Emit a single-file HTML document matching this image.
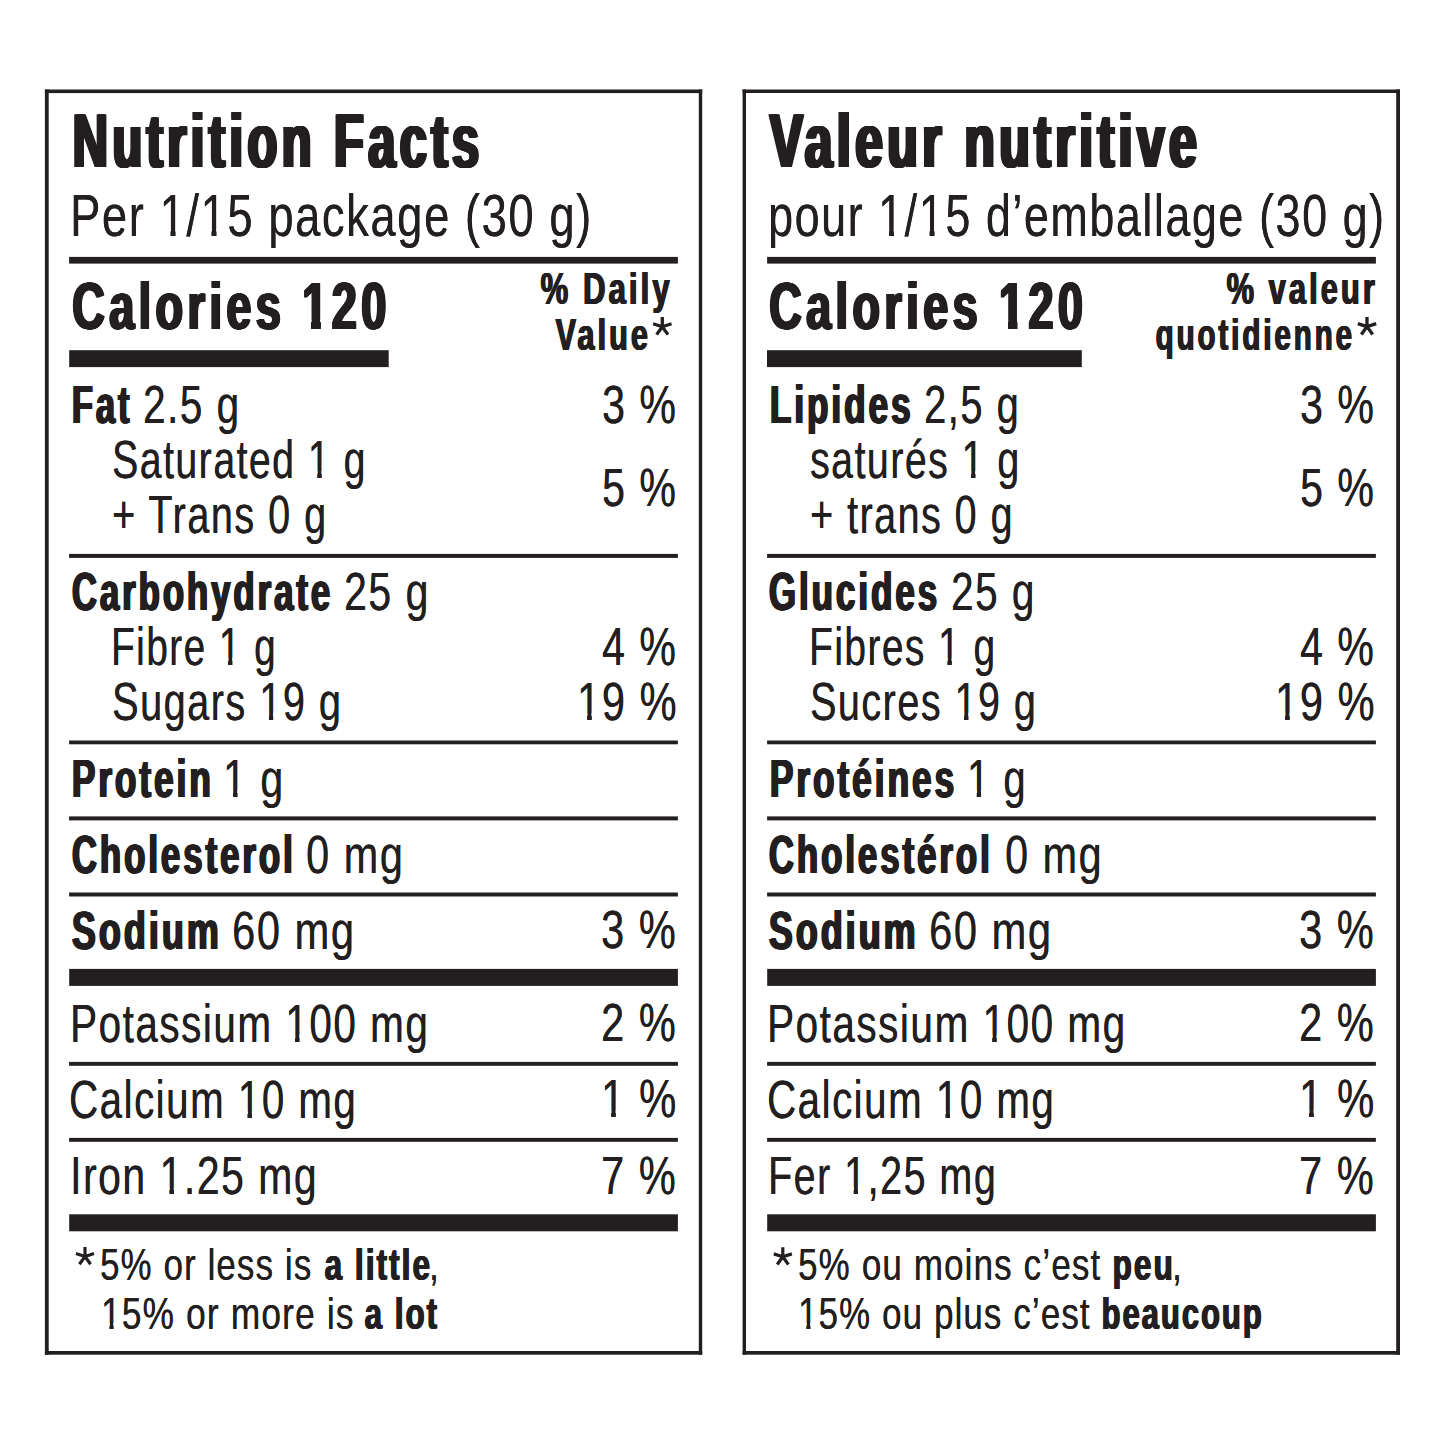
<!DOCTYPE html>
<html><head><meta charset="utf-8"><title>Nutrition Facts</title><style>
html,body{margin:0;padding:0;background:#fff;width:1445px;height:1445px;overflow:hidden;position:relative}
.t{position:absolute;white-space:pre;font-family:"Liberation Sans",sans-serif;color:#231f20;transform-origin:0 0}
.b{font-weight:bold}.r{font-weight:normal}
.k{position:absolute;background:#231f20}
.box{position:absolute;box-sizing:border-box;border:3px solid #231f20}
.ast{position:absolute;left:0;top:0}
.one-per-r{display:inline-block;clip-path:polygon(-20px -20px,200px -20px,200px 42.55px,20.65px 42.55px,20.65px 300px,14.54px 300px,14.54px 42.55px,-20px 42.55px)}
.one-cal-b{display:inline-block;clip-path:polygon(-20px -20px,200px -20px,200px 46.52px,28.55px 46.52px,28.55px 300px,15.22px 300px,15.22px 46.52px,-20px 46.52px)}
.one-body-r{display:inline-block;clip-path:polygon(-20px -20px,200px -20px,200px 37.92px,18.61px 37.92px,18.61px 300px,13.03px 300px,13.03px 37.92px,-20px 37.92px)}
.one-fn-r{display:inline-block;clip-path:polygon(-20px -20px,200px -20px,200px 31.28px,15.69px 31.28px,15.69px 300px,10.87px 300px,10.87px 31.28px,-20px 31.28px)}
</style></head><body>
<svg class="ast" width="1445" height="1445" viewBox="0 0 1445 1445"><g fill="#231f20"><rect x="69.10" y="256.90" width="608.80" height="6.70"/><rect x="767.10" y="256.90" width="608.80" height="6.70"/><rect x="69.20" y="350.20" width="319.50" height="16.90"/><rect x="767.00" y="350.20" width="314.80" height="16.90"/><rect x="69.10" y="553.90" width="608.80" height="4.00"/><rect x="767.10" y="553.90" width="608.80" height="4.00"/><rect x="69.10" y="740.50" width="608.80" height="3.80"/><rect x="767.10" y="740.50" width="608.80" height="3.80"/><rect x="69.10" y="816.40" width="608.80" height="4.00"/><rect x="767.10" y="816.40" width="608.80" height="4.00"/><rect x="69.10" y="892.50" width="608.80" height="4.00"/><rect x="767.10" y="892.50" width="608.80" height="4.00"/><rect x="69.20" y="968.90" width="608.70" height="17.00"/><rect x="767.20" y="968.90" width="608.70" height="17.00"/><rect x="69.10" y="1061.90" width="608.80" height="3.90"/><rect x="767.10" y="1061.90" width="608.80" height="3.90"/><rect x="69.10" y="1137.90" width="608.80" height="3.90"/><rect x="767.10" y="1137.90" width="608.80" height="3.90"/><rect x="69.20" y="1214.30" width="608.70" height="17.00"/><rect x="767.20" y="1214.30" width="608.70" height="17.00"/><rect x="44.90" y="89.50" width="657.30" height="3.60"/><rect x="44.90" y="1351.00" width="657.30" height="3.70"/><rect x="44.90" y="89.50" width="3.80" height="1265.20"/><rect x="698.80" y="89.50" width="3.40" height="1265.20"/><rect x="742.60" y="89.50" width="657.40" height="3.50"/><rect x="742.60" y="1351.00" width="657.40" height="3.70"/><rect x="742.60" y="89.50" width="3.40" height="1265.20"/><rect x="1396.20" y="89.50" width="3.80" height="1265.20"/></g><g stroke="#231f20" fill="none" stroke-linecap="butt"><path d="M662.30 326.80L662.30 317.10M662.30 326.80L653.07 323.80M662.30 326.80L656.60 334.65M662.30 326.80L668.00 334.65M662.30 326.80L671.53 323.80" stroke-width="3.30"/><path d="M1367.00 326.60L1367.00 316.90M1367.00 326.60L1357.77 323.60M1367.00 326.60L1361.30 334.45M1367.00 326.60L1372.70 334.45M1367.00 326.60L1376.23 323.60" stroke-width="3.30"/><path d="M85.00 1256.50L85.00 1247.00M85.00 1256.50L75.96 1253.56M85.00 1256.50L79.42 1264.19M85.00 1256.50L90.58 1264.19M85.00 1256.50L94.04 1253.56" stroke-width="3.20"/><path d="M782.80 1256.80L782.80 1247.30M782.80 1256.80L773.76 1253.86M782.80 1256.80L777.22 1264.49M782.80 1256.80L788.38 1264.49M782.80 1256.80L791.84 1253.86" stroke-width="3.20"/></g></svg>
<div class="t" style="left:70.79px;top:103px;font-size:75.8px;line-height:75.8px;transform:scaleX(0.6421);text-shadow:0.80px 0 0 #231f20,1.60px 0 0 #231f20,2.40px 0 0 #231f20,3.20px 0 0 #231f20,4.00px 0 0 #231f20,4.80px 0 0 #231f20,5.60px 0 0 #231f20;letter-spacing:7.00px;"><span class="b">Nutrition Facts</span></div>
<div class="t" style="left:70.15px;top:187px;font-size:59.0px;line-height:59.0px;transform:scaleX(0.7698);text-shadow:0.30px 0 0 #231f20;letter-spacing:2.00px;"><span class="r">Per <span class="one-per-r">1</span>/<span class="one-per-r">1</span>5 package (30 g)</span></div>
<div class="t" style="left:70.57px;top:273px;font-size:66.5px;line-height:66.5px;transform:scaleX(0.6777);text-shadow:0.60px 0 0 #231f20,1.20px 0 0 #231f20,1.80px 0 0 #231f20,2.40px 0 0 #231f20,3.00px 0 0 #231f20,3.60px 0 0 #231f20;letter-spacing:6.50px;"><span class="b">Calories <span class="one-cal-b">1</span>20</span></div>
<div class="t" style="left:539.81px;top:266px;font-size:45.0px;line-height:45.0px;transform:scaleX(0.6894);text-shadow:0.60px 0 0 #231f20,1.20px 0 0 #231f20,1.80px 0 0 #231f20;letter-spacing:4.50px;"><span class="b">% Daily</span></div>
<div class="t" style="left:554.70px;top:312px;font-size:45.0px;line-height:45.0px;transform:scaleX(0.6809);text-shadow:0.60px 0 0 #231f20,1.20px 0 0 #231f20,1.80px 0 0 #231f20;letter-spacing:4.50px;"><span class="b">Value</span></div>
<div class="t" style="left:71.05px;top:378px;font-size:53.0px;line-height:53.0px;transform:scaleX(0.6511);text-shadow:0.65px 0 0 #231f20,1.30px 0 0 #231f20,1.95px 0 0 #231f20,2.60px 0 0 #231f20;letter-spacing:4.50px;"><span class="b">Fat</span></div>
<div class="t" style="left:143.18px;top:378px;font-size:53.0px;line-height:53.0px;transform:scaleX(0.7620);text-shadow:0.30px 0 0 #231f20;letter-spacing:2.00px;"><span class="r">2.5 g</span></div>
<div class="t" style="left:601.75px;top:378px;font-size:53.0px;line-height:53.0px;transform:scaleX(0.7750);text-shadow:0.30px 0 0 #231f20;letter-spacing:2.00px;"><span class="r">3 %</span></div>
<div class="t" style="left:111.52px;top:433px;font-size:53.0px;line-height:53.0px;transform:scaleX(0.7401);text-shadow:0.30px 0 0 #231f20;letter-spacing:2.00px;"><span class="r">Saturated <span class="one-body-r">1</span> g</span></div>
<div class="t" style="left:111.51px;top:488px;font-size:53.0px;line-height:53.0px;transform:scaleX(0.7465);text-shadow:0.30px 0 0 #231f20;letter-spacing:2.00px;"><span class="r">+ Trans 0 g</span></div>
<div class="t" style="left:601.75px;top:461px;font-size:53.0px;line-height:53.0px;transform:scaleX(0.7750);text-shadow:0.30px 0 0 #231f20;letter-spacing:2.00px;"><span class="r">5 %</span></div>
<div class="t" style="left:70.69px;top:565px;font-size:53.0px;line-height:53.0px;transform:scaleX(0.6555);text-shadow:0.65px 0 0 #231f20,1.30px 0 0 #231f20,1.95px 0 0 #231f20,2.60px 0 0 #231f20;letter-spacing:4.50px;"><span class="b">Carbohydrate</span></div>
<div class="t" style="left:343.76px;top:565px;font-size:53.0px;line-height:53.0px;transform:scaleX(0.7712);text-shadow:0.30px 0 0 #231f20;letter-spacing:2.00px;"><span class="r">25 g</span></div>
<div class="t" style="left:111.38px;top:620px;font-size:53.0px;line-height:53.0px;transform:scaleX(0.7303);text-shadow:0.30px 0 0 #231f20;letter-spacing:2.00px;"><span class="r">Fibre <span class="one-body-r">1</span> g</span></div>
<div class="t" style="left:602.03px;top:620px;font-size:53.0px;line-height:53.0px;transform:scaleX(0.7742);text-shadow:0.30px 0 0 #231f20;letter-spacing:2.00px;"><span class="r">4 %</span></div>
<div class="t" style="left:111.50px;top:675px;font-size:53.0px;line-height:53.0px;transform:scaleX(0.7485);text-shadow:0.30px 0 0 #231f20;letter-spacing:2.00px;"><span class="r">Sugars <span class="one-body-r">1</span>9 g</span></div>
<div class="t" style="left:576.78px;top:675px;font-size:53.0px;line-height:53.0px;transform:scaleX(0.7842);text-shadow:0.30px 0 0 #231f20;letter-spacing:2.00px;"><span class="r"><span class="one-body-r">1</span>9 %</span></div>
<div class="t" style="left:70.51px;top:752px;font-size:53.0px;line-height:53.0px;transform:scaleX(0.6626);text-shadow:0.65px 0 0 #231f20,1.30px 0 0 #231f20,1.95px 0 0 #231f20,2.60px 0 0 #231f20;letter-spacing:4.50px;"><span class="b">Protein</span></div>
<div class="t" style="left:222.54px;top:752px;font-size:53.0px;line-height:53.0px;transform:scaleX(0.7729);text-shadow:0.30px 0 0 #231f20;letter-spacing:2.00px;"><span class="r"><span class="one-body-r">1</span> g</span></div>
<div class="t" style="left:70.69px;top:828px;font-size:53.0px;line-height:53.0px;transform:scaleX(0.6563);text-shadow:0.65px 0 0 #231f20,1.30px 0 0 #231f20,1.95px 0 0 #231f20,2.60px 0 0 #231f20;letter-spacing:4.50px;"><span class="b">Cholesterol</span></div>
<div class="t" style="left:306.34px;top:828px;font-size:53.0px;line-height:53.0px;transform:scaleX(0.7807);text-shadow:0.30px 0 0 #231f20;letter-spacing:2.00px;"><span class="r">0 mg</span></div>
<div class="t" style="left:70.64px;top:904px;font-size:53.0px;line-height:53.0px;transform:scaleX(0.6776);text-shadow:0.65px 0 0 #231f20,1.30px 0 0 #231f20,1.95px 0 0 #231f20,2.60px 0 0 #231f20;letter-spacing:4.50px;"><span class="b">Sodium</span></div>
<div class="t" style="left:231.53px;top:904px;font-size:53.0px;line-height:53.0px;transform:scaleX(0.7840);text-shadow:0.30px 0 0 #231f20;letter-spacing:2.00px;"><span class="r">60 mg</span></div>
<div class="t" style="left:601.23px;top:903px;font-size:53.0px;line-height:53.0px;transform:scaleX(0.7826);text-shadow:0.30px 0 0 #231f20;letter-spacing:2.00px;"><span class="r">3 %</span></div>
<div class="t" style="left:69.95px;top:997px;font-size:53.0px;line-height:53.0px;transform:scaleX(0.7628);text-shadow:0.30px 0 0 #231f20;letter-spacing:2.00px;"><span class="r">Potassium <span class="one-body-r">1</span>00 mg</span></div>
<div class="t" style="left:601.23px;top:996px;font-size:53.0px;line-height:53.0px;transform:scaleX(0.7826);text-shadow:0.30px 0 0 #231f20;letter-spacing:2.00px;"><span class="r">2 %</span></div>
<div class="t" style="left:68.92px;top:1073px;font-size:53.0px;line-height:53.0px;transform:scaleX(0.7596);text-shadow:0.30px 0 0 #231f20;letter-spacing:2.00px;"><span class="r">Calcium <span class="one-body-r">1</span>0 mg</span></div>
<div class="t" style="left:600.76px;top:1072px;font-size:53.0px;line-height:53.0px;transform:scaleX(0.7876);text-shadow:0.30px 0 0 #231f20;letter-spacing:2.00px;"><span class="r"><span class="one-body-r">1</span> %</span></div>
<div class="t" style="left:69.84px;top:1149px;font-size:53.0px;line-height:53.0px;transform:scaleX(0.7712);text-shadow:0.30px 0 0 #231f20;letter-spacing:2.00px;"><span class="r">Iron <span class="one-body-r">1</span>.25 mg</span></div>
<div class="t" style="left:601.25px;top:1149px;font-size:53.0px;line-height:53.0px;transform:scaleX(0.7824);text-shadow:0.30px 0 0 #231f20;letter-spacing:2.00px;"><span class="r">7 %</span></div>
<div class="t" style="left:99.93px;top:1243px;font-size:44.4px;line-height:44.4px;transform:scaleX(0.7828);text-shadow:0.30px 0 0 #231f20;letter-spacing:1.50px;"><span class="r">5% or less is</span></div>
<div class="t" style="left:323.69px;top:1243px;font-size:44.4px;line-height:44.4px;transform:scaleX(0.7054);text-shadow:0.60px 0 0 #231f20,1.20px 0 0 #231f20,1.80px 0 0 #231f20;letter-spacing:3.00px;"><span class="b">a little</span></div>
<div class="t" style="left:429.17px;top:1243px;font-size:44.4px;line-height:44.4px;transform:scaleX(0.7828);text-shadow:0.30px 0 0 #231f20;letter-spacing:1.50px;"><span class="r">,</span></div>
<div class="t" style="left:101.13px;top:1292px;font-size:44.4px;line-height:44.4px;transform:scaleX(0.7933);text-shadow:0.30px 0 0 #231f20;letter-spacing:1.50px;"><span class="r"><span class="one-fn-r">1</span>5% or more is</span></div>
<div class="t" style="left:364.30px;top:1292px;font-size:44.4px;line-height:44.4px;transform:scaleX(0.7010);text-shadow:0.60px 0 0 #231f20,1.20px 0 0 #231f20,1.80px 0 0 #231f20;letter-spacing:3.00px;"><span class="b">a lot</span></div>
<div class="t" style="left:768.35px;top:103px;font-size:75.8px;line-height:75.8px;transform:scaleX(0.6542);text-shadow:0.80px 0 0 #231f20,1.60px 0 0 #231f20,2.40px 0 0 #231f20,3.20px 0 0 #231f20,4.00px 0 0 #231f20,4.80px 0 0 #231f20,5.60px 0 0 #231f20;letter-spacing:7.00px;"><span class="b">Valeur nutritive</span></div>
<div class="t" style="left:767.95px;top:187px;font-size:59.0px;line-height:59.0px;transform:scaleX(0.7619);text-shadow:0.30px 0 0 #231f20;letter-spacing:2.00px;"><span class="r">pour <span class="one-per-r">1</span>/<span class="one-per-r">1</span>5 d’emballage (30 g)</span></div>
<div class="t" style="left:768.37px;top:273px;font-size:66.5px;line-height:66.5px;transform:scaleX(0.6770);text-shadow:0.60px 0 0 #231f20,1.20px 0 0 #231f20,1.80px 0 0 #231f20,2.40px 0 0 #231f20,3.00px 0 0 #231f20,3.60px 0 0 #231f20;letter-spacing:6.50px;"><span class="b">Calories <span class="one-cal-b">1</span>20</span></div>
<div class="t" style="left:1225.92px;top:266px;font-size:45.0px;line-height:45.0px;transform:scaleX(0.6843);text-shadow:0.60px 0 0 #231f20,1.20px 0 0 #231f20,1.80px 0 0 #231f20;letter-spacing:4.50px;"><span class="b">% valeur</span></div>
<div class="t" style="left:1155.19px;top:312px;font-size:45.0px;line-height:45.0px;transform:scaleX(0.6550);text-shadow:0.60px 0 0 #231f20,1.20px 0 0 #231f20,1.80px 0 0 #231f20;letter-spacing:4.50px;"><span class="b">quotidienne</span></div>
<div class="t" style="left:768.51px;top:378px;font-size:53.0px;line-height:53.0px;transform:scaleX(0.6619);text-shadow:0.65px 0 0 #231f20,1.30px 0 0 #231f20,1.95px 0 0 #231f20,2.60px 0 0 #231f20;letter-spacing:4.50px;"><span class="b">Lipides</span></div>
<div class="t" style="left:924.20px;top:378px;font-size:53.0px;line-height:53.0px;transform:scaleX(0.7512);text-shadow:0.30px 0 0 #231f20;letter-spacing:2.00px;"><span class="r">2,5 g</span></div>
<div class="t" style="left:809.86px;top:433px;font-size:53.0px;line-height:53.0px;transform:scaleX(0.7410);text-shadow:0.30px 0 0 #231f20;letter-spacing:2.00px;"><span class="r">saturés <span class="one-body-r">1</span> g</span></div>
<div class="t" style="left:809.61px;top:488px;font-size:53.0px;line-height:53.0px;transform:scaleX(0.7446);text-shadow:0.30px 0 0 #231f20;letter-spacing:2.00px;"><span class="r">+ trans 0 g</span></div>
<div class="t" style="left:768.18px;top:565px;font-size:53.0px;line-height:53.0px;transform:scaleX(0.6591);text-shadow:0.65px 0 0 #231f20,1.30px 0 0 #231f20,1.95px 0 0 #231f20,2.60px 0 0 #231f20;letter-spacing:4.50px;"><span class="b">Glucides</span></div>
<div class="t" style="left:950.77px;top:565px;font-size:53.0px;line-height:53.0px;transform:scaleX(0.7625);text-shadow:0.30px 0 0 #231f20;letter-spacing:2.00px;"><span class="r">25 g</span></div>
<div class="t" style="left:808.87px;top:620px;font-size:53.0px;line-height:53.0px;transform:scaleX(0.7332);text-shadow:0.30px 0 0 #231f20;letter-spacing:2.00px;"><span class="r">Fibres <span class="one-body-r">1</span> g</span></div>
<div class="t" style="left:809.61px;top:675px;font-size:53.0px;line-height:53.0px;transform:scaleX(0.7456);text-shadow:0.30px 0 0 #231f20;letter-spacing:2.00px;"><span class="r">Sucres <span class="one-body-r">1</span>9 g</span></div>
<div class="t" style="left:768.51px;top:752px;font-size:53.0px;line-height:53.0px;transform:scaleX(0.6640);text-shadow:0.65px 0 0 #231f20,1.30px 0 0 #231f20,1.95px 0 0 #231f20,2.60px 0 0 #231f20;letter-spacing:4.50px;"><span class="b">Protéines</span></div>
<div class="t" style="left:966.73px;top:752px;font-size:53.0px;line-height:53.0px;transform:scaleX(0.7543);text-shadow:0.30px 0 0 #231f20;letter-spacing:2.00px;"><span class="r"><span class="one-body-r">1</span> g</span></div>
<div class="t" style="left:768.19px;top:828px;font-size:53.0px;line-height:53.0px;transform:scaleX(0.6563);text-shadow:0.65px 0 0 #231f20,1.30px 0 0 #231f20,1.95px 0 0 #231f20,2.60px 0 0 #231f20;letter-spacing:4.50px;"><span class="b">Cholestérol</span></div>
<div class="t" style="left:1004.54px;top:828px;font-size:53.0px;line-height:53.0px;transform:scaleX(0.7790);text-shadow:0.30px 0 0 #231f20;letter-spacing:2.00px;"><span class="r">0 mg</span></div>
<div class="t" style="left:768.35px;top:904px;font-size:53.0px;line-height:53.0px;transform:scaleX(0.6766);text-shadow:0.65px 0 0 #231f20,1.30px 0 0 #231f20,1.95px 0 0 #231f20,2.60px 0 0 #231f20;letter-spacing:4.50px;"><span class="b">Sodium</span></div>
<div class="t" style="left:929.23px;top:904px;font-size:53.0px;line-height:53.0px;transform:scaleX(0.7840);text-shadow:0.30px 0 0 #231f20;letter-spacing:2.00px;"><span class="r">60 mg</span></div>
<div class="t" style="left:767.45px;top:997px;font-size:53.0px;line-height:53.0px;transform:scaleX(0.7634);text-shadow:0.30px 0 0 #231f20;letter-spacing:2.00px;"><span class="r">Potassium <span class="one-body-r">1</span>00 mg</span></div>
<div class="t" style="left:766.62px;top:1073px;font-size:53.0px;line-height:53.0px;transform:scaleX(0.7596);text-shadow:0.30px 0 0 #231f20;letter-spacing:2.00px;"><span class="r">Calcium <span class="one-body-r">1</span>0 mg</span></div>
<div class="t" style="left:767.52px;top:1149px;font-size:53.0px;line-height:53.0px;transform:scaleX(0.7445);text-shadow:0.30px 0 0 #231f20;letter-spacing:2.00px;"><span class="r">Fer <span class="one-body-r">1</span>,25 mg</span></div>
<div class="t" style="left:798.03px;top:1243px;font-size:44.4px;line-height:44.4px;transform:scaleX(0.7862);text-shadow:0.30px 0 0 #231f20;letter-spacing:1.50px;"><span class="r">5% ou moins c’est</span></div>
<div class="t" style="left:1112.28px;top:1243px;font-size:44.4px;line-height:44.4px;transform:scaleX(0.7074);text-shadow:0.60px 0 0 #231f20,1.20px 0 0 #231f20,1.80px 0 0 #231f20;letter-spacing:3.00px;"><span class="b">peu</span></div>
<div class="t" style="left:1172.26px;top:1243px;font-size:44.4px;line-height:44.4px;transform:scaleX(0.7862);text-shadow:0.30px 0 0 #231f20;letter-spacing:1.50px;"><span class="r">,</span></div>
<div class="t" style="left:797.97px;top:1292px;font-size:44.4px;line-height:44.4px;transform:scaleX(0.7837);text-shadow:0.30px 0 0 #231f20;letter-spacing:1.50px;"><span class="r"><span class="one-fn-r">1</span>5% ou plus c’est</span></div>
<div class="t" style="left:1101.12px;top:1292px;font-size:44.4px;line-height:44.4px;transform:scaleX(0.6939);text-shadow:0.60px 0 0 #231f20,1.20px 0 0 #231f20,1.80px 0 0 #231f20;letter-spacing:3.00px;"><span class="b">beaucoup</span></div>
<div class="t" style="left:1299.75px;top:378px;font-size:53.0px;line-height:53.0px;transform:scaleX(0.7750);text-shadow:0.30px 0 0 #231f20;letter-spacing:2.00px;"><span class="r">3 %</span></div>
<div class="t" style="left:1299.75px;top:461px;font-size:53.0px;line-height:53.0px;transform:scaleX(0.7750);text-shadow:0.30px 0 0 #231f20;letter-spacing:2.00px;"><span class="r">5 %</span></div>
<div class="t" style="left:1300.03px;top:620px;font-size:53.0px;line-height:53.0px;transform:scaleX(0.7742);text-shadow:0.30px 0 0 #231f20;letter-spacing:2.00px;"><span class="r">4 %</span></div>
<div class="t" style="left:1274.78px;top:675px;font-size:53.0px;line-height:53.0px;transform:scaleX(0.7842);text-shadow:0.30px 0 0 #231f20;letter-spacing:2.00px;"><span class="r"><span class="one-body-r">1</span>9 %</span></div>
<div class="t" style="left:1299.23px;top:903px;font-size:53.0px;line-height:53.0px;transform:scaleX(0.7826);text-shadow:0.30px 0 0 #231f20;letter-spacing:2.00px;"><span class="r">3 %</span></div>
<div class="t" style="left:1299.23px;top:996px;font-size:53.0px;line-height:53.0px;transform:scaleX(0.7826);text-shadow:0.30px 0 0 #231f20;letter-spacing:2.00px;"><span class="r">2 %</span></div>
<div class="t" style="left:1298.76px;top:1072px;font-size:53.0px;line-height:53.0px;transform:scaleX(0.7876);text-shadow:0.30px 0 0 #231f20;letter-spacing:2.00px;"><span class="r"><span class="one-body-r">1</span> %</span></div>
<div class="t" style="left:1299.25px;top:1149px;font-size:53.0px;line-height:53.0px;transform:scaleX(0.7824);text-shadow:0.30px 0 0 #231f20;letter-spacing:2.00px;"><span class="r">7 %</span></div>
</body></html>
